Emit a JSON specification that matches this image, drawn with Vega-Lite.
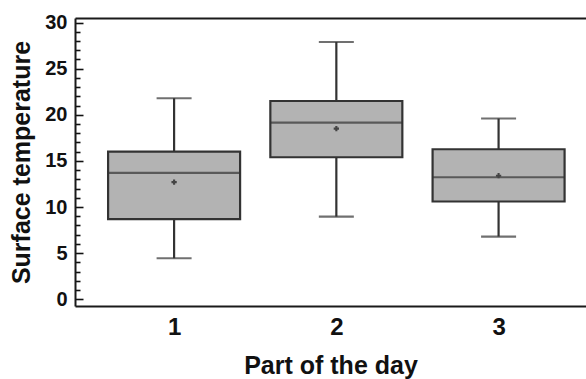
{
  "$schema": "https://vega.github.io/schema/vega-lite/v6.json",
  "autosize": {"type": "none"},
  "padding": {"left": 75, "top": 18, "right": 0, "bottom": 73},
  "width": 511,
  "height": 288,
  "background": "white",
  "config": {
    "view": {"stroke": null},
    "font": "Liberation Sans",
    "axis": {"grid": false, "domainColor": "#1a1a1a", "domainWidth": 2, "tickColor": "#1a1a1a", "labelColor": "#111", "titleColor": "#111", "labelFontWeight": "bold", "titleFontWeight": "bold", "labelFont": "Liberation Sans", "titleFont": "Liberation Sans"}
  },
  "data": {
    "values": [
      {"part": 1, "min": 4.45, "q1": 8.7, "median": 13.7, "q3": 16.0, "max": 21.8, "mean": 12.7},
      {"part": 2, "min": 8.96, "q1": 15.4, "median": 19.15, "q3": 21.5, "max": 27.9, "mean": 18.5},
      {"part": 3, "min": 6.8, "q1": 10.6, "median": 13.23, "q3": 16.27, "max": 19.6, "mean": 13.4}
    ]
  },
  "encoding": {
    "y": {"type": "quantitative", "scale": {"domain": [-0.73, 30.5], "nice": false, "zero": false},
      "axis": {"values": [0,1,2,3,4,5,6,7,8,9,10,11,12,13,14,15,16,17,18,19,20,21,22,23,24,25,26,27,28,29,30],
        "labelOverlap": false,
        "zindex": 2,
        "labelExpr": "datum.value % 5 === 0 ? datum.label : ''",
        "ticks": true,
        "tickSize": -8,
        "tickColor": "#111",
        "tickOpacity": 1,
        "tickDash": {"condition": {"test": "datum.value % 5 === 0", "value": [10, 0]}, "value": [5, 20]},
        "tickWidth": 1.6, "labelFontSize": 20, "labelPadding": 16, "title": "Surface temperature", "titleFontSize": 25, "titlePadding": 10}}
  },
  "resolve": {"axis": {"x": "independent"}},
  "layer": [
    {
      "mark": {"type": "rule", "color": "#333", "strokeWidth": 2.2},
      "encoding": {
        "x": {"field": "part", "type": "quantitative", "scale": {"domain": [0.42, 3.508], "nice": false, "zero": false},
          "axis": {"orient": "bottom", "values": [1, 2, 3], "format": "d", "ticks": false, "labelFontSize": 24, "labelPadding": 9, "title": "Part of the day", "titleFontSize": 25, "titlePadding": 14}},
        "y": {"field": "min"},
        "y2": {"field": "max"}
      }
    },
    {
      "mark": {"type": "tick", "orient": "horizontal", "color": "#333", "thickness": 2.2, "size": 35},
      "encoding": {
        "x": {"field": "part", "type": "quantitative", "axis": null},
        "y": {"field": "min"}
      }
    },
    {
      "mark": {"type": "tick", "orient": "horizontal", "color": "#333", "thickness": 2.2, "size": 35},
      "encoding": {
        "x": {"field": "part", "type": "quantitative", "axis": null},
        "y": {"field": "max"}
      }
    },
    {
      "mark": {"type": "bar", "fill": "#b3b3b3", "stroke": "#333", "strokeWidth": 2.2, "size": 132, "orient": "vertical"},
      "encoding": {
        "x": {"field": "part", "type": "quantitative", "axis": null},
        "y": {"field": "q1"},
        "y2": {"field": "q3"}
      }
    },
    {
      "mark": {"type": "tick", "orient": "horizontal", "color": "#333", "thickness": 2.2, "size": 132},
      "encoding": {
        "x": {"field": "part", "type": "quantitative", "axis": null},
        "y": {"field": "median"}
      }
    },
    {
      "mark": {"type": "point", "shape": "cross", "filled": true, "color": "#444", "size": 28, "opacity": 1},
      "encoding": {
        "x": {"field": "part", "type": "quantitative", "axis": {"orient": "top", "labels": false, "ticks": false, "title": null, "domainWidth": 2}},
        "y": {"field": "mean"}
      }
    }
  ]
}
